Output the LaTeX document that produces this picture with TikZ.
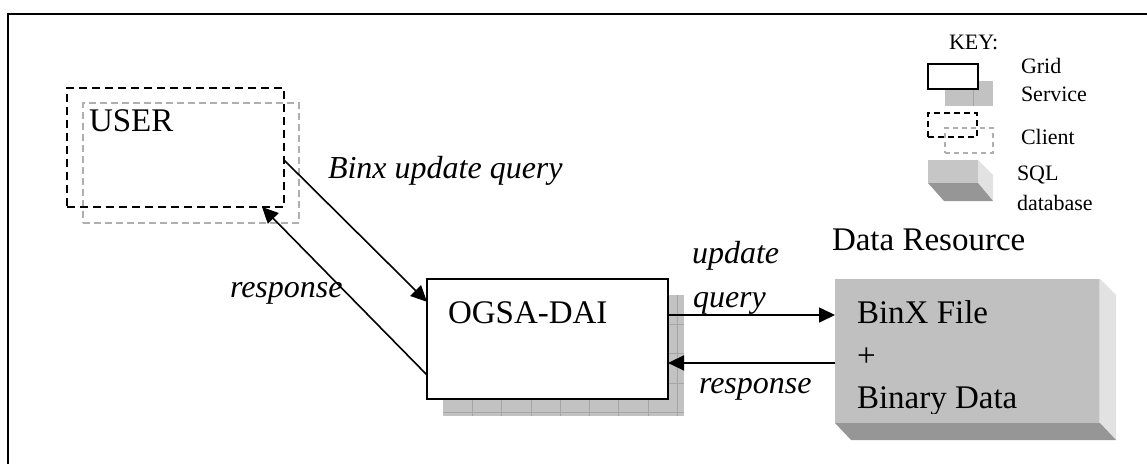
\documentclass[tikz,border=0pt]{standalone}
\usepackage{fontspec}
\setmainfont{Liberation Serif}
\usetikzlibrary{arrows.meta,calc}

\definecolor{shadowgray}{RGB}{194,194,194}
\definecolor{gridline}{RGB}{165,165,165}
\definecolor{cubefront}{RGB}{192,192,192}
\definecolor{cubeside}{RGB}{226,226,226}
\definecolor{cubebottom}{RGB}{150,150,150}
\definecolor{clientgray}{RGB}{175,175,175}

\newcommand\maintxt{\fontsize{33}{38}\selectfont}
\newcommand\italtxt{\fontsize{32}{37}\selectfont\itshape}
\newcommand\keytxt{\fontsize{22}{26}\selectfont}

\tikzset{
  box/.style={rectangle, inner sep=0pt, outer sep=0pt, anchor=north west},
  service/.style={box, draw=black, line width=1.5pt, fill=white},
  clientfront/.style={box, draw=black, line width=2pt, dash pattern=on 8pt off 5pt},
  clientback/.style={box, draw=clientgray, line width=1.3pt, dash pattern=on 7pt off 4pt},
  lbl/.style={inner sep=0pt, outer sep=0pt, anchor=base west, font=\maintxt},
  ilbl/.style={inner sep=0pt, outer sep=0pt, anchor=base west, font=\italtxt},
  klbl/.style={inner sep=0pt, outer sep=0pt, anchor=base west, font=\keytxt},
  conn/.style={line width=1.6pt, -{Triangle[length=16pt,width=15pt]}},
}

\begin{document}
\begin{tikzpicture}[x=1pt,y=-1pt]
\useasboundingbox (0,0) rectangle (1147,463);

% outer frame (top and left edges)
\draw[line width=2pt] (8,470) -- (8,14) -- (1150,14);

% ---- user client ----
\node[clientback, minimum width=216pt, minimum height=120pt] (userback) at (83,103) {};
\node[clientfront, minimum width=217pt, minimum height=119pt] (user) at (67,88) {};
\node[lbl] (usertxt) at (89,131) {USER};

% ---- OGSA-DAI grid service with its textured shadow ----
\fill[shadowgray] (443,295) rectangle (684,416);
\foreach \i in {1,...,8} \draw[gridline, line width=0.8pt] (443+\i*29.3,295) -- (443+\i*29.3,416);
\foreach \j in {1,...,4} \draw[gridline, line width=0.8pt] (443,295+\j*29.3) -- (684,295+\j*29.3);
\node[service, minimum width=241pt, minimum height=120pt] (ogsa) at (427,279) {};
\node[lbl] (ogsatxt) at (448,323) {OGSA-DAI};

% ---- data resource (3-D block) ----
\fill[cubeside] (1100,279) -- (1116,295) -- (1116,440) -- (1100,423) -- cycle;
\fill[cubebottom] (835,423) -- (1100,423) -- (1116,440) -- (851,440) -- cycle;
\node[box, fill=cubefront, minimum width=265pt, minimum height=144pt] (dr) at (835,279) {};
\draw[cubeside!70!cubefront, line width=1pt] (1099.5,279) -- (1099.5,423);
\node[lbl] (drtitle) at (832,250) {Data Resource};
\begin{scope}
  \clip (835,279) rectangle (1100,413);
  \node[lbl] (binx) at (857,323) {BinX File};
  \node[lbl] (plus) at (857,366) {+};
  \node[lbl] (bindata) at (857,408) {Binary Data};
\end{scope}

% ---- connectors ----
\coordinate (uq) at ($(user.north east)!0.605!(user.south east)$);
\coordinate (oq) at ($(ogsa.north west)!0.19!(ogsa.south west)$);
\draw[conn] (uq) -- (oq);
\coordinate (orsp) at ($(ogsa.north west)!0.8!(ogsa.south west)$);
\coordinate (ursp) at ($(user.south west)!0.899!(user.south east)$);
\draw[conn] (orsp) -- (ursp);
\coordinate (q1) at ($(ogsa.north east)!0.3!(ogsa.south east)$);
\draw[conn] (q1) -- (q1 -| dr.west);
\coordinate (r1) at ($(dr.north west)!0.583!(dr.south west)$);
\draw[conn] (r1) -- (r1 -| ogsa.east);

% ---- connector labels ----
\node[ilbl] (lq) at (328,178) {Binx update query};
\node[ilbl] (lr) at (230,297) {response};
\node[ilbl] (lu) at (692,263) {update};
\node[ilbl] (lqq) at (693,307) {query};
\node[ilbl] (lr2) at (699,393) {response};

% ---- key ----
\node[klbl] (keyhead) at (949,49) {KEY:};
\fill[shadowgray] (945,81) rectangle (993,106);
\draw[gridline, line width=0.8pt] (973,81) -- (973,106);
\node[service, minimum width=50pt, minimum height=25pt] (kservice) at (928,64) {};
\node[klbl] (kgrid) at (1021,73) {Grid};
\node[klbl] (kserv) at (1021,101) {Service};
\node[box, draw=clientgray, line width=1.2pt, dash pattern=on 5pt off 4pt, minimum width=48pt, minimum height=25pt] (kcback) at (945,128) {};
\node[box, draw=black, line width=1.8pt, dash pattern=on 6pt off 4pt, minimum width=49pt, minimum height=24pt] (kclient) at (928,113) {};
\node[klbl] (kcl) at (1021,144) {Client};
\fill[cubeside] (978,160) -- (993,175) -- (993,201) -- (978,183) -- cycle;
\fill[cubebottom] (928,183) -- (978,183) -- (993,201) -- (944,201) -- cycle;
\node[box, fill=cubefront!90!white, minimum width=50pt, minimum height=23pt] (kdb) at (928,160) {};
\node[klbl] (ksql) at (1017,180) {SQL};
\node[klbl] (kdata) at (1017,210) {database};
\end{tikzpicture}
\end{document}
